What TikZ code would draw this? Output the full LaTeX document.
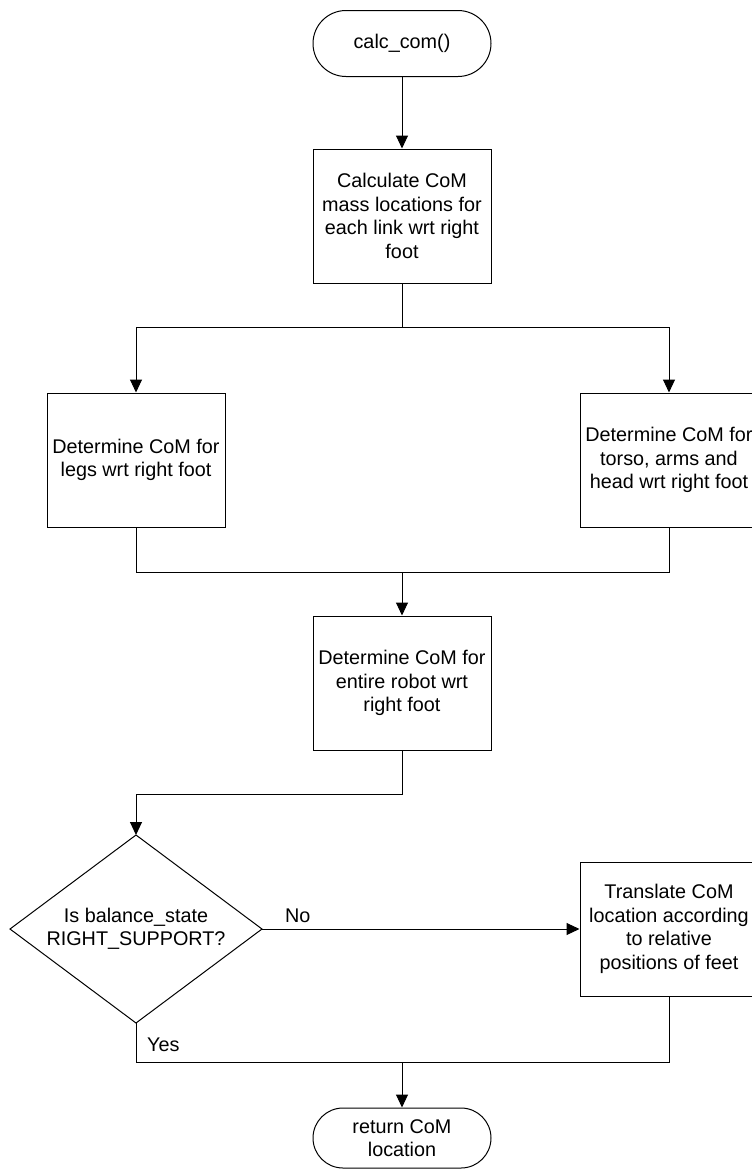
\documentclass[tikz,border=0pt]{standalone}
\usepackage{fontspec}
\setmainfont{Liberation Sans}
\usetikzlibrary{shapes.misc,arrows.meta}
\begin{document}
\begin{tikzpicture}[x=1pt,y=-1pt,
  every node/.style={font=\fontsize{19.8}{23.5}\selectfont, align=center, inner sep=0pt},
  procbox/.style={draw, rectangle, minimum width=178pt, minimum height=134pt, line width=1pt},
  term/.style={draw, rounded rectangle, minimum width=178pt, minimum height=66pt, line width=1pt},
  flow/.style={-{Triangle[width=12pt,length=13pt]}, line width=1pt},
  link/.style={line width=1pt}]
\useasboundingbox (0,0) rectangle (752,1171);

% process steps
\node[term] (start) at (402,43.5) {calc\_com()};
\node[procbox] (calc) at (402,216) {Calculate CoM\\mass locations for\\each link wrt right\\foot};
\node[procbox] (legs) at (136,460) {Determine CoM for\\legs wrt right foot};
\node[procbox] (upper) at (669,460) {Determine CoM for\\torso, arms and\\head wrt right foot};
\node[procbox] (whole) at (402,683) {Determine CoM for\\entire robot wrt\\right foot};

% decision
\coordinate (dtop) at (136,835);
\coordinate (dright) at (262,929);
\coordinate (dbot) at (136,1023);
\coordinate (dleft) at (10,929);
\draw[link] (dtop) -- (dright) -- (dbot) -- (dleft) -- cycle;
\node (dec) at (136,929) {Is balance\_state\\RIGHT\_SUPPORT?};

\node[procbox] (shift) at (669,929) {Translate CoM\\location according\\to relative\\positions of feet};
\node[term, minimum height=60pt] (ret) at (402,1138) {return CoM\\location};

% connectors
\coordinate (split) at (402,327);
\coordinate (join) at (402,572);
\coordinate (bend) at (402,794);
\coordinate (merge) at (402,1062);

\draw[flow] (start) -- (calc);
\draw[link] (calc.south) -- (split);
\draw[flow] (split) -| (legs.north);
\draw[flow] (split) -| (upper.north);
\draw[link] (legs.south) |- (join);
\draw[link] (upper.south) |- (join);
\draw[flow] (join) -- (whole.north);
\draw[flow] (whole.south) -- (bend) -| (dtop);
\draw[flow] (dright) -- (shift.west);
\node[anchor=west] (nolabel) at (285,916) {No};
\draw[link] (dbot) |- (merge);
\draw[link] (shift.south) |- (merge);
\node[anchor=west] (yeslabel) at (147,1045) {Yes};
\draw[flow] (merge) -- (ret.north);
\end{tikzpicture}
\end{document}
